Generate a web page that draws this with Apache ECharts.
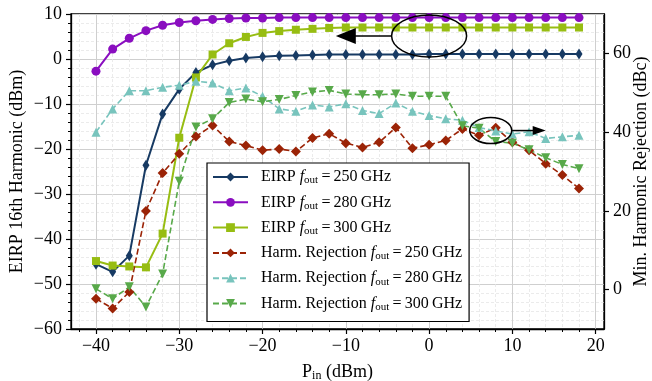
<!DOCTYPE html>
<html><head><meta charset="utf-8">
<script src="https://cdn.jsdelivr.net/npm/echarts@6/dist/echarts.min.js"></script>
<style>html,body{margin:0;padding:0;background:#fff}#c{width:652px;height:381px}</style>
</head><body><div id="c"></div>
<script>
// ---- data ----
const pin = [-40,-38,-36,-34,-32,-30,-28,-26,-24,-22,-20,-18,-16,-14,-12,-10,-8,-6,-4,-2,0,2,4,6,8,10,12,14,16,18];
const eirp250 = [-45.6,-47.3,-43.7,-23.6,-12.2,-6.7,-3.0,-1.3,-0.4,0.2,0.5,0.7,0.8,0.9,1.0,1.0,1.0,1.0,1.0,1.0,1.1,1.1,1.1,1.1,1.1,1.1,1.1,1.1,1.1,1.1];
const eirp280 = [-2.7,2.2,4.6,6.3,7.5,8.1,8.5,8.8,9.0,9.1,9.1,9.2,9.2,9.2,9.2,9.2,9.2,9.2,9.2,9.2,9.2,9.2,9.2,9.2,9.2,9.2,9.2,9.2,9.2,9.2];
const eirp300 = [-44.9,-45.9,-46.1,-46.3,-38.8,-17.5,-4.1,1.0,3.5,4.9,5.8,6.2,6.5,6.7,6.9,7.0,7.0,7.0,7.0,7.0,7.0,7.0,7.0,7.0,7.0,7.0,7.0,7.0,7.0,7.0];
const hr250 = [-2.3,-4.8,-0.6,20.0,29.6,34.5,38.9,41.7,37.6,36.6,35.4,35.7,35.1,38.5,39.6,37.2,36.1,37.4,41.2,35.9,36.8,37.9,40.8,39.2,41.1,37.4,35.4,32.0,29.1,25.7];
const hr280 = [40.0,45.9,50.5,50.5,51.4,51.9,52.9,52.5,50.5,51.2,49.1,45.9,45.3,46.9,46.4,47.2,45.5,44.7,47.4,45.3,44.2,43.4,43.0,41.2,40.3,39.5,40.1,38.4,38.8,39.2];
const hr300 = [0.2,-2.3,0.7,-4.4,4.0,27.5,41.3,43.4,47.5,48.4,47.7,48.3,49.3,50.2,50.6,49.7,49.5,49.5,49.7,49.1,49.1,49.1,41.6,41.0,37.6,37.2,35.5,33.5,31.8,30.7];
const xMajor = [-40,-30,-20,-10,0,10,20];
const xMinor = [-42,-38,-36,-34,-32,-28,-26,-24,-22,-18,-16,-14,-12,-8,-6,-4,-2,2,4,6,8,12,14,16,18];
const yRightMajor = [0,20,40,60];
const legendPrefix = ['EIRP','EIRP','EIRP','Harm. Rejection','Harm. Rejection','Harm. Rejection'];
const legendFreq = ['250','280','300','250','280','300'];

const FONT = '"Liberation Serif","Times New Roman",serif';
const minus = v => String(v).replace('-', '\u2212');
const pairs = ys => pin.map((x, i) => [x, ys[i]]);
const names = legendPrefix.map((p, i) => p + ' f_out = ' + legendFreq[i] + ' GHz');

const colors = ['#173a63','#8a0ec0','#97bd12','#9b2306','#78c4bd','#58a94a'];

const chart = echarts.init(document.getElementById('c'));

function eirpSeries(i, data, symbol, size) {
  return {
    name: names[i], type: 'line', xAxisIndex: 0, yAxisIndex: 0, data: pairs(data),
    symbol: symbol, symbolSize: size, showSymbol: true,
    lineStyle: {color: colors[i], width: 2}, itemStyle: {color: colors[i]},
    emphasis: {disabled: true}, animation: false, z: 3
  };
}
function hrSeries(i, data, symbol, size, rot) {
  return {
    name: names[i], type: 'line', xAxisIndex: 0, yAxisIndex: 1, data: pairs(data),
    symbol: symbol, symbolSize: size, symbolRotate: rot || 0, showSymbol: true,
    lineStyle: {color: colors[i], width: 1.6, type: [6, 3]}, itemStyle: {color: colors[i]},
    emphasis: {disabled: true}, animation: false, z: 3
  };
}

const richL = {
  a: {fontFamily: FONT, fontSize: 16, color: '#000', lineHeight: 18},
  i: {fontFamily: FONT, fontSize: 16, fontStyle: 'italic', color: '#000', lineHeight: 18},
  s: {fontFamily: FONT, fontSize: 11, color: '#000', lineHeight: 11, verticalAlign: 'bottom'}
};

const option = {
  animation: false,
  grid: {left: 71, right: 48, top: 14, bottom: 52, show: true, borderColor: '#000', borderWidth: 1.3,
         backgroundColor: 'transparent', outerBoundsMode: 'none', containLabel: false},
  legend: {
    orient: 'vertical', left: 207, top: 163,
    data: names,
    itemWidth: 35, itemHeight: 11, itemGap: 8.3,
    padding: [6, 7, 9, 5],
    backgroundColor: '#fff', borderColor: '#000', borderWidth: 1.2, borderRadius: 0,
    selectedMode: false,
    textStyle: {fontFamily: FONT, fontSize: 16, color: '#000', padding: [0, 0, 0, 8], rich: richL},
    formatter: function (name) {
      const i = names.indexOf(name);
      return '{a|' + legendPrefix[i] + ' }{i|f}{s|out}{a|\u2009=\u2009' + legendFreq[i] + '\u2009GHz}';
    },
    z: 10
  },
  xAxis: [
    {
      type: 'value', min: -43, max: 21, position: 'bottom',
      axisLine: {show: true, onZero: false, lineStyle: {color: '#000', width: 1.3}},
      axisTick: {show: true, customValues: xMajor, length: 5, lineStyle: {color: '#000', width: 1.2}},
      axisLabel: {customValues: xMajor, formatter: minus, fontFamily: FONT, fontSize: 18, color: '#000', margin: 8},
      splitLine: {show: true, lineStyle: {color: '#cfcfcf', width: 1}},
      name: 'P{s|in} (dBm)', nameLocation: 'middle', nameGap: 33, nameMoveOverlap: false,
      nameTextStyle: {fontFamily: FONT, fontSize: 18, color: '#000', lineHeight: 20,
        rich: {s: {fontFamily: FONT, fontSize: 12, color: '#000', lineHeight: 12, verticalAlign: 'bottom'}}}
    },
    {
      type: 'value', min: -43, max: 21, position: 'bottom', offset: 0,
      axisLine: {show: false, onZero: false},
      axisTick: {show: true, customValues: xMinor, length: 3, lineStyle: {color: '#000', width: 1}},
      axisLabel: {show: false},
      splitLine: {show: true, lineStyle: {color: '#e6e6e6', width: 0.8, type: [3, 2]}}
    }
  ],
  yAxis: [
    {
      type: 'value', min: -60, max: 10, interval: 10, position: 'left',
      axisLine: {show: true, onZero: false, lineStyle: {color: '#000', width: 1.3}},
      axisTick: {show: true, length: 5, lineStyle: {color: '#000', width: 1.2}},
      minorTick: {show: true, splitNumber: 5, length: 3, lineStyle: {color: '#000', width: 1}},
      axisLabel: {formatter: minus, fontFamily: FONT, fontSize: 18, color: '#000', margin: 9},
      splitLine: {show: true, lineStyle: {color: '#cfcfcf', width: 1}},
      minorSplitLine: {show: true, lineStyle: {color: '#e6e6e6', width: 0.8, type: [3, 2]}},
      name: 'EIRP 16th Harmonic (dBm)', nameLocation: 'middle', nameGap: 45, nameRotate: 90, nameMoveOverlap: false,
      nameTextStyle: {fontFamily: FONT, fontSize: 18, color: '#000'}
    },
    {
      type: 'value', min: -10, max: 70, position: 'right',
      axisLine: {show: true, onZero: false, lineStyle: {color: '#000', width: 1.3}},
      axisTick: {show: true, customValues: yRightMajor, length: 5, lineStyle: {color: '#000', width: 1.2}},
      axisLabel: {customValues: yRightMajor, formatter: minus, fontFamily: FONT, fontSize: 18, color: '#000', margin: 9},
      splitLine: {show: false},
      name: 'Min. Harmonic Rejection (dBc)', nameLocation: 'middle', nameGap: 28, nameRotate: 90, nameMoveOverlap: false,
      nameTextStyle: {fontFamily: FONT, fontSize: 18, color: '#000'}
    }
  ],
  series: [
    eirpSeries(0, eirp250, 'diamond', [7, 11]),
    eirpSeries(1, eirp280, 'circle', 9),
    eirpSeries(2, eirp300, 'rect', 8),
    hrSeries(3, hr250, 'diamond', [10, 10]),
    hrSeries(4, hr280, 'triangle', 9),
    hrSeries(5, hr300, 'triangle', 9, 180)
  ]
};
chart.setOption(option);

// ---- annotations (ellipses + arrows), anchored in data coordinates ----
function px(x, y, yi) { return chart.convertToPixel({xAxisIndex: 0, yAxisIndex: yi}, [x, y]); }
const e1 = px(0, 5.1, 0), tip1 = px(-11.2, 5.1, 0);
const e2 = px(7.4, 40.4, 1), tip2 = px(14.0, 40.4, 1);
const st = {fill: 'none', stroke: '#000', lineWidth: 1.5};
chart.setOption({
  graphic: [
    {type: 'ellipse', shape: {cx: e1[0], cy: e1[1], rx: 37.5, ry: 21}, style: st, z: 20},
    {type: 'line', shape: {x1: e1[0] - 37.5, y1: e1[1], x2: tip1[0] + 18, y2: e1[1]}, style: {stroke: '#000', lineWidth: 1.5}, z: 20},
    {type: 'polygon', shape: {points: [[tip1[0], tip1[1]], [tip1[0] + 20, tip1[1] - 8], [tip1[0] + 20, tip1[1] + 8]]}, style: {fill: '#000'}, z: 20},
    {type: 'ellipse', shape: {cx: e2[0], cy: e2[1], rx: 21, ry: 13}, style: st, z: 20},
    {type: 'line', shape: {x1: e2[0] + 21, y1: e2[1], x2: tip2[0] - 10, y2: e2[1]}, style: {stroke: '#000', lineWidth: 1.5}, z: 20},
    {type: 'polygon', shape: {points: [[tip2[0], tip2[1]], [tip2[0] - 13, tip2[1] - 4.5], [tip2[0] - 13, tip2[1] + 4.5]]}, style: {fill: '#000'}, z: 20}
  ]
});
</script>
</body></html>
